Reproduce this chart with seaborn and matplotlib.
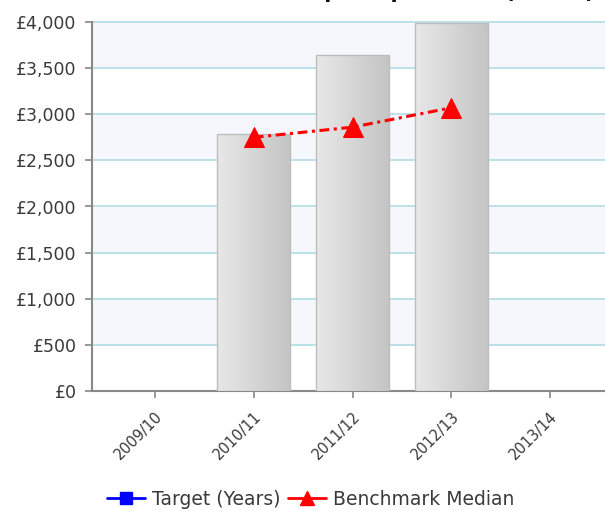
import numpy as np
import pandas as pd
import matplotlib
matplotlib.use("Agg")
import matplotlib.pyplot as plt
import matplotlib.transforms as mtransforms
from matplotlib.lines import Line2D
from matplotlib.colors import LinearSegmentedColormap
import seaborn as sns

categories = ["2009/10", "2010/11", "2011/12", "2012/13", "2013/14"]
spend = [np.nan, 2790, 3640, 3990, np.nan]
benchmark = [np.nan, 2750, 2860, 3070, np.nan]
target = [np.nan, np.nan, np.nan, np.nan, np.nan]
yticks = [0, 500, 1000, 1500, 2000, 2500, 3000, 3500, 4000]
ytick_labels = ["£0", "£500", "£1,000", "£1,500", "£2,000", "£2,500", "£3,000", "£3,500", "£4,000"]
title_text = "Total Spend per Head (£000s)"

sns.set_theme(style="white")
plt.rcParams["font.family"] = ["DejaVu Sans"]

fig = plt.figure(figsize=(6.05, 5.11), dpi=100)
ax = fig.add_axes([92 / 605, 120 / 511, 521 / 605, 369 / 511])

df = pd.DataFrame({"year": categories, "spend": spend})
sns.barplot(data=df, x="year", y="spend", order=categories, ax=ax,
            width=0.74, color="#d8d8d8", edgecolor="#bdbdbd", linewidth=1.0,
            zorder=3)

# gradient fill on bars
cmap = LinearSegmentedColormap.from_list("g", ["#e8e8e8", "#c4c4c4"])
grad = np.linspace(0, 1, 256).reshape(1, -1)
for p in ax.patches:
    h = p.get_height()
    if not np.isfinite(h) or h == 0:
        continue
    x0 = p.get_x()
    w = p.get_width()
    im = ax.imshow(grad, cmap=cmap, aspect="auto", extent=[x0, x0 + w, 0, h],
                   zorder=3.5)
    im.set_clip_path(p)
    p.set_facecolor("none")
    p.set_zorder(4)

idx = np.arange(len(categories))
ldf = pd.DataFrame({"x": idx, "bench": benchmark}).dropna()
sns.lineplot(data=ldf, x="x", y="bench", ax=ax, color="#ff0000", linewidth=2.2,
             marker="^", markersize=15, markeredgecolor="#ff0000",
             dashes=False, zorder=6)
for ln in ax.lines:
    ln.set_dashes([3.2, 1.5, 1.0, 1.5])

# background bands and grid
for i in range(len(yticks) - 1):
    if (len(yticks) - 2 - i) % 2 == 0:
        ax.axhspan(yticks[i], yticks[i + 1], color="#f5f7fd", zorder=0, lw=0)
for yv in yticks[1:]:
    ax.axhline(yv, color="#b0dde4", lw=1.2, zorder=1, clip_on=False)

ax.set_xlim(-0.64, 4.64)
ax.set_ylim(0, 4000)
ax.set_yticks(yticks)
ax.set_yticklabels(ytick_labels, fontsize=12.5, color="#3a3a3a")
ax.set_xticks(idx)
ax.set_xticklabels(categories, fontsize=10.5, color="#3a3a3a", rotation=45,
                   ha="right", rotation_mode="anchor")
offset = mtransforms.ScaledTranslation(-5 / 100, 0, fig.dpi_scale_trans)
for lbl in ax.get_xticklabels():
    lbl.set_transform(lbl.get_transform() + offset)
ax.set_xlabel("")
ax.set_ylabel("")
for s in ["top", "right"]:
    ax.spines[s].set_visible(False)
for s in ["left", "bottom"]:
    ax.spines[s].set_color("#888888")
    ax.spines[s].set_linewidth(1.5)
ax.tick_params(axis="y", which="both", direction="out", length=5, width=1.2,
               color="#888888", left=True, pad=6)
ax.tick_params(axis="x", which="both", direction="out", length=5, width=1.2,
               color="#888888", bottom=True, pad=8)

handles = [
    Line2D([0], [0], color="#0000ff", lw=2, marker="s", markersize=9),
    Line2D([0], [0], color="#ff0000", lw=2, marker="^", markersize=10),
]
fig.legend(handles, ["Target (Years)", "Benchmark Median"], loc="center",
           bbox_to_anchor=(311 / 605, 12 / 511), ncol=2, frameon=False,
           fontsize=13.5, handlelength=2.0, handletextpad=0.4, columnspacing=0.4,
           labelcolor="#3a3a3a")

fig.text(595 / 605, 1 - 1.5 / 511, title_text, ha="right", va="bottom",
         fontsize=15, fontweight="bold", color="#111111")

fig.savefig("out.png", dpi=100)
